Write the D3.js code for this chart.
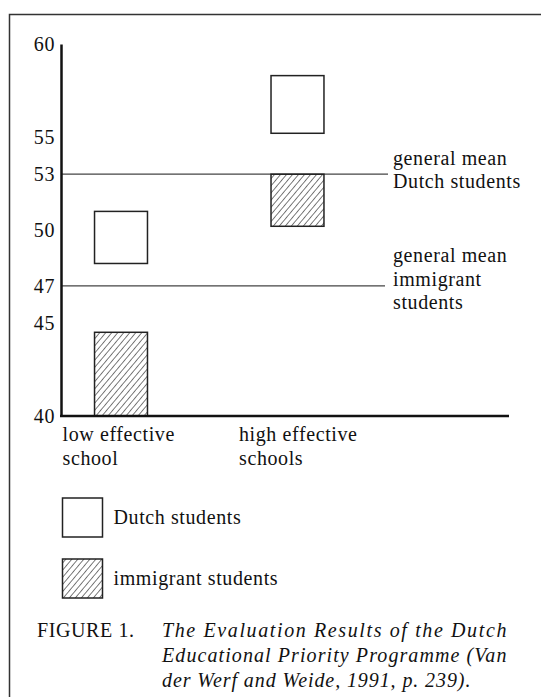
<!DOCTYPE html>
<html>
<head>
<meta charset="utf-8">
<script src="https://cdn.jsdelivr.net/npm/d3@7"></script>
<style>
  body { margin: 0; background: #fff; }
  svg text { font-family: "Liberation Serif", "Times New Roman", serif; fill: #111; font-size: 20px; letter-spacing: 0.6px; }
</style>
</head>
<body>
<div id="chart"></div>
<script>
// data
var schools = ["low effective school", "high effective schools"]
var schoolLines = [["low effective", "school"], ["high effective", "schools"]]
var dutchLow = [48.2, 55.2]
var dutchHigh = [51.0, 58.3]
var immLow = [40, 50.2]
var immHigh = [44.5, 53.0]
var yTicks = [40, 45, 47, 50, 53, 55, 60]
var means = [53, 47]
var meanLabels = [["general mean", "Dutch students"], ["general mean", "immigrant", "students"]]
var legendLabels = ["Dutch students", "immigrant students"]
var caption = ["The Evaluation Results of the Dutch", "Educational Priority Programme (Van", "der Werf and Weide, 1991, p. 239)."]

var W = 541, H = 697

var svg = d3.select("#chart")
    .append("svg")
    .attr("width", W)
    .attr("height", H)

var defs = svg.append("defs")
defs.append("pattern")
    .attr("id", "hatch")
    .attr("patternUnits", "userSpaceOnUse")
    .attr("width", 4.6)
    .attr("height", 5)
    .attr("patternTransform", "rotate(40)")
    .append("line")
    .attr("x1", 0).attr("y1", 0)
    .attr("x2", 0).attr("y2", 5)
    .attr("stroke", "#222")
    .attr("stroke-width", 1.2)

// frame (only top and left edges show in the scan)
svg.append("rect")
    .attr("x", 9.5).attr("y", 14.5)
    .attr("width", 600).attr("height", 800)
    .attr("fill", "none")
    .attr("stroke", "#333")
    .attr("stroke-width", 1.5)

var x = d3.scaleBand()
    .domain(schools)
    .range([61, 357.5])
    .paddingInner(0.7)
    .paddingOuter(0.19)

var y = d3.scaleLinear()
    .domain([40, 60])
    .range([416, 44])

// mean lines
var meanEnd = [388, 385]
svg.selectAll(".mean")
    .data(means)
    .enter()
    .append("line")
    .attr("x1", 61)
    .attr("x2", (d, i) => meanEnd[i])
    .attr("y1", d => y(d))
    .attr("y2", d => y(d))
    .attr("stroke", "#444")
    .attr("stroke-width", 1.2)

// bars
function bars(lo, hi, fill) {
    svg.append("g")
        .selectAll("rect")
        .data(schools)
        .enter()
        .append("rect")
        .attr("x", d => x(d))
        .attr("width", x.bandwidth())
        .attr("y", (d, i) => y(hi[i]))
        .attr("height", (d, i) => y(lo[i]) - y(hi[i]))
        .attr("fill", fill)
        .attr("stroke", "#222")
        .attr("stroke-width", 1.5)
}
bars(dutchLow, dutchHigh, "#fff")
bars(immLow, immHigh, "url(#hatch)")

// axes
var yAxis = svg.append("g")
    .attr("transform", "translate(61,0)")
    .call(d3.axisLeft(y).tickValues(yTicks).tickSize(0).tickPadding(6))
yAxis.select(".domain").attr("stroke", "#111").attr("stroke-width", 2.5)
yAxis.selectAll("text")
    .style("font-family", "Liberation Serif")
    .style("font-size", "20px")
    .style("letter-spacing", "0.6px")
    .attr("fill", "#111")

svg.append("line")
    .attr("x1", 60).attr("x2", 509)
    .attr("y1", y(40)).attr("y2", y(40))
    .attr("stroke", "#111")
    .attr("stroke-width", 2.5)

// category labels
svg.selectAll(".cat")
    .data(schoolLines)
    .enter()
    .append("text")
    .attr("x", (d, i) => x(schools[i]) - 32)
    .attr("y", y(40) + 25)
    .selectAll("tspan")
    .data(d => d)
    .enter()
    .append("tspan")
    .attr("x", function () { return this.parentNode.getAttribute("x") })
    .attr("dy", (d, i) => i === 0 ? 0 : 24)
    .text(d => d)

// mean labels
var meanOffsets = [[-9, 14], [-24, 0, 23]]
meanLabels.forEach((lines, k) => {
    lines.forEach((t, j) => {
        svg.append("text")
            .attr("x", 393)
            .attr("y", y(means[k]) + meanOffsets[k][j])
            .text(t)
    })
})

// legend
var legend = svg.append("g").attr("transform", "translate(62.5,498)")
legendLabels.forEach((t, i) => {
    legend.append("rect")
        .attr("x", 0).attr("y", i * 61)
        .attr("width", 40).attr("height", 39)
        .attr("fill", i === 0 ? "#fff" : "url(#hatch)")
        .attr("stroke", "#222")
        .attr("stroke-width", 1.5)
    legend.append("text")
        .attr("x", 51).attr("y", i * 61 + 26)
        .text(t)
})

// caption
svg.append("text")
    .attr("x", 37).attr("y", 637)
    .text("FIGURE 1.")
var capLen = [345, 345, 309]
caption.forEach((t, i) => {
    svg.append("text")
        .attr("x", 162).attr("y", 637 + i * 24.8)
        .style("font-style", "italic")
        .attr("textLength", capLen[i])
        .attr("lengthAdjust", "spacing")
        .text(t)
})
</script>
</body>
</html>
